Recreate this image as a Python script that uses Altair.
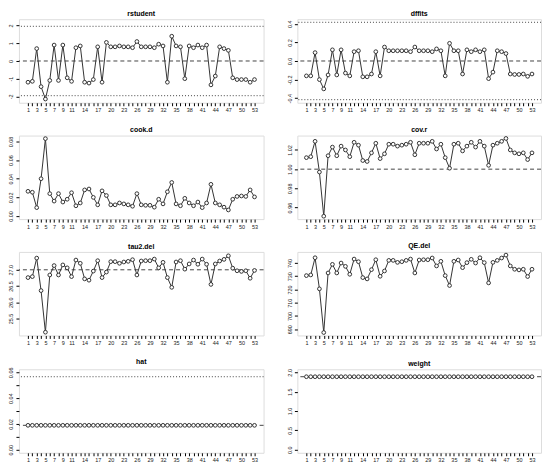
import altair as alt
import pandas as pd

study = list(range(1, 54))
x_labels = [1, 3, 5, 7, 9, 11, 14, 17, 20, 23, 26, 29, 32, 35, 38, 41, 44, 47, 50, 53]

rstudent = [-1.2, -1.15, 0.7, -1.45, -2.15, -1.1, 0.9, -1.1, 0.9, -0.95,
            -1.15, 0.75, 0.85, -1.2, -1.25, -1.05, 0.8, -1.2, 1.05, 0.8,
            0.8, 0.85, 0.8, 0.8, 0.75, 1.1, 0.8, 0.8, 0.8, 0.75,
            0.95, 0.85, -1.2, 1.4, 0.85, 0.8, -1.0, 0.85, 0.75, 0.9,
            0.75, 0.9, -1.35, -0.85, 0.8, 0.7, 0.6, -0.95, -1.05, -1.05,
            -1.05, -1.2, -1.05]
dffits = [-0.16, -0.16, 0.09, -0.20, -0.30, -0.15, 0.12, -0.15, 0.12, -0.13,
          -0.16, 0.10, 0.11, -0.17, -0.17, -0.14, 0.10, -0.16, 0.15, 0.11,
          0.11, 0.11, 0.11, 0.11, 0.10, 0.15, 0.11, 0.11, 0.11, 0.10,
          0.13, 0.11, -0.16, 0.19, 0.11, 0.11, -0.14, 0.12, 0.10, 0.12,
          0.10, 0.12, -0.19, -0.12, 0.11, 0.10, 0.08, -0.14, -0.145, -0.145,
          -0.14, -0.165, -0.14]
cook_d = [0.0265, 0.0255, 0.009, 0.040, 0.083, 0.024, 0.016, 0.024, 0.015, 0.018,
          0.025, 0.011, 0.014, 0.028, 0.029, 0.020, 0.012, 0.027, 0.022, 0.012,
          0.012, 0.014, 0.013, 0.012, 0.0105, 0.024, 0.012, 0.0115, 0.0115, 0.0095,
          0.018, 0.013, 0.026, 0.036, 0.013, 0.011, 0.019, 0.014, 0.011, 0.015,
          0.009, 0.014, 0.034, 0.014, 0.012, 0.0095, 0.0065, 0.018, 0.021, 0.0215,
          0.021, 0.028, 0.0205]
cov_r = [1.012, 1.013, 1.029, 0.997, 0.951, 1.014, 1.023, 1.014, 1.024, 1.020,
         1.013, 1.028, 1.025, 1.009, 1.008, 1.017, 1.027, 1.011, 1.016, 1.026,
         1.026, 1.024, 1.025, 1.026, 1.028, 1.015, 1.027, 1.027, 1.027, 1.029,
         1.021, 1.026, 1.012, 1.001, 1.026, 1.027, 1.019, 1.024, 1.028, 1.023,
         1.029, 1.024, 1.004, 1.025, 1.027, 1.029, 1.032, 1.020, 1.017, 1.016,
         1.017, 1.010, 1.017]
tau2_del = [26.76, 26.79, 27.36, 26.36, 25.08, 26.84, 27.13, 26.84, 27.15, 27.06,
            26.79, 27.30, 27.20, 26.72, 26.68, 26.96, 27.28, 26.76, 26.93, 27.25,
            27.25, 27.20, 27.24, 27.26, 27.31, 26.84, 27.27, 27.28, 27.28, 27.33,
            27.06, 27.23, 26.76, 26.46, 27.24, 27.28, 27.02, 27.18, 27.30, 27.17,
            27.33, 27.17, 26.55, 27.18, 27.27, 27.32, 27.43, 27.05, 26.97, 26.95,
            26.97, 26.74, 26.98]
qe_del = [730.5, 731.0, 744.0, 720.5, 687.5, 732.5, 739.0, 732.5, 740.0, 737.5,
          731.5, 743.0, 741.0, 729.0, 728.0, 735.0, 742.5, 730.0, 734.0, 742.0,
          742.0, 740.5, 741.0, 742.0, 743.0, 732.5, 742.3, 742.5, 742.5, 743.8,
          737.8, 741.3, 730.5, 723.0, 741.3, 742.3, 736.5, 740.3, 742.8, 740.0,
          744.0, 740.3, 725.0, 740.5, 742.0, 743.8, 746.0, 737.8, 735.3, 734.8,
          735.3, 729.8, 735.3]
hat = [0.0189] * 53
weight = [1.887] * 53

FONT = "Liberation Sans"
LINE = "#333333"
LBL = 5.5


def panel(title, values, domain, ticks, fmt, shown=None, dashed=None, dotted=None, width=246):
    df = pd.DataFrame({"study": study, "value": values})
    x_enc = alt.X(
        "study:Q",
        scale=alt.Scale(domain=[-1.08, 55.08], nice=False, zero=False),
        axis=alt.Axis(
            values=study, title=None, grid=False, domain=False,
            tickSize=3, tickColor="#000", labelPadding=2, labelFontSize=LBL,
            labelFont=FONT, labelColor="#222", labelFlush=False, labelOverlap=False,
            labelExpr="indexof(" + str(x_labels) + ", datum.value) >= 0 ? datum.label : ''",
        ),
    )
    yaxis = dict(
        values=ticks, format=fmt, title=None, grid=False, domain=False,
        tickSize=3, tickColor="#000", labelPadding=2, labelFontSize=LBL,
        labelFont=FONT, labelColor="#222", labelAngle=270, labelAlign="center",
        labelBaseline="bottom", labelFlush=False, labelOverlap=False,
    )
    if shown is not None:
        yaxis["labelExpr"] = "indexof(" + str(shown) + ", datum.label) >= 0 ? datum.label : ''"
    y_enc = alt.Y("value:Q", scale=alt.Scale(domain=domain, nice=False, zero=False),
                  axis=alt.Axis(**yaxis))

    layers = []
    if dashed is not None:
        layers.append(
            alt.Chart(pd.DataFrame({"value": [dashed]}))
            .mark_rule(color="#444", strokeWidth=1, strokeDash=[4, 3])
            .encode(y=y_enc)
        )
    if dotted is not None:
        layers.append(
            alt.Chart(pd.DataFrame({"value": dotted}))
            .mark_rule(color="#444", strokeWidth=1, strokeDash=[1, 2])
            .encode(y=y_enc)
        )
    base = alt.Chart(df).encode(x=x_enc, y=y_enc)
    layers.append(base.mark_line(color=LINE, strokeWidth=1))
    layers.append(base.mark_point(shape="circle", filled=True, fill="white", stroke=LINE,
                                  strokeWidth=1, size=14, opacity=1))
    return alt.layer(*layers).properties(
        width=width, height=84,
        title=alt.TitleParams(title, fontSize=7, fontWeight="bold", font=FONT,
                              color="#000", offset=2, anchor="middle"),
    )


p1 = panel("rstudent", rstudent, [-2.36, 2.36], [-2, -1, 0, 1, 2], "d",
           dashed=0, dotted=[-1.96, 1.96])
p2 = panel("dffits", dffits, [-0.449, 0.449], [-0.4, -0.2, 0, 0.2, 0.4], ".1f",
           dashed=0, dotted=[-0.416, 0.416], width=245)
p3 = panel("cook.d", cook_d, [-0.0033, 0.0863], [0, 0.02, 0.04, 0.06, 0.08], ".2f")
p4 = panel("cov.r", cov_r, [0.948, 1.035], [0.96, 0.98, 1.00, 1.02], ".2f", dashed=1.0,
           width=245)
p5 = panel("tau2.del", tau2_del, [24.98, 27.55], [25.5, 26.0, 26.5, 27.0], ".1f", dashed=27.0)
p6 = panel("QE.del", qe_del, [685.3, 748.4], [690, 700, 710, 720, 730, 740], "d", width=245)
p7 = panel("hat", hat, [-0.0024, 0.0624], [0, 0.01, 0.02, 0.03, 0.04, 0.05, 0.06], ".2f",
           shown=["0.00", "0.02", "0.04", "0.06"], dashed=0.0189, dotted=[0.0566])
p8 = panel("weight", weight, [-0.08, 2.08], [0, 0.5, 1.0, 1.5, 2.0], ".1f", dashed=1.887,
           width=245)

rows = [alt.hconcat(a, b, spacing=22) for a, b in [(p1, p2), (p3, p4), (p5, p6), (p7, p8)]]
chart = alt.vconcat(*rows, spacing=11).properties(padding=0).configure_view(
    stroke="#000", strokeWidth=1
).configure(
    locale={"number": {"decimal": ".", "thousands": ",", "grouping": [3],
                       "currency": ["$", ""], "minus": "-"}}
)

chart.save("out.html", embed_options={"renderer": "svg", "actions": False})
